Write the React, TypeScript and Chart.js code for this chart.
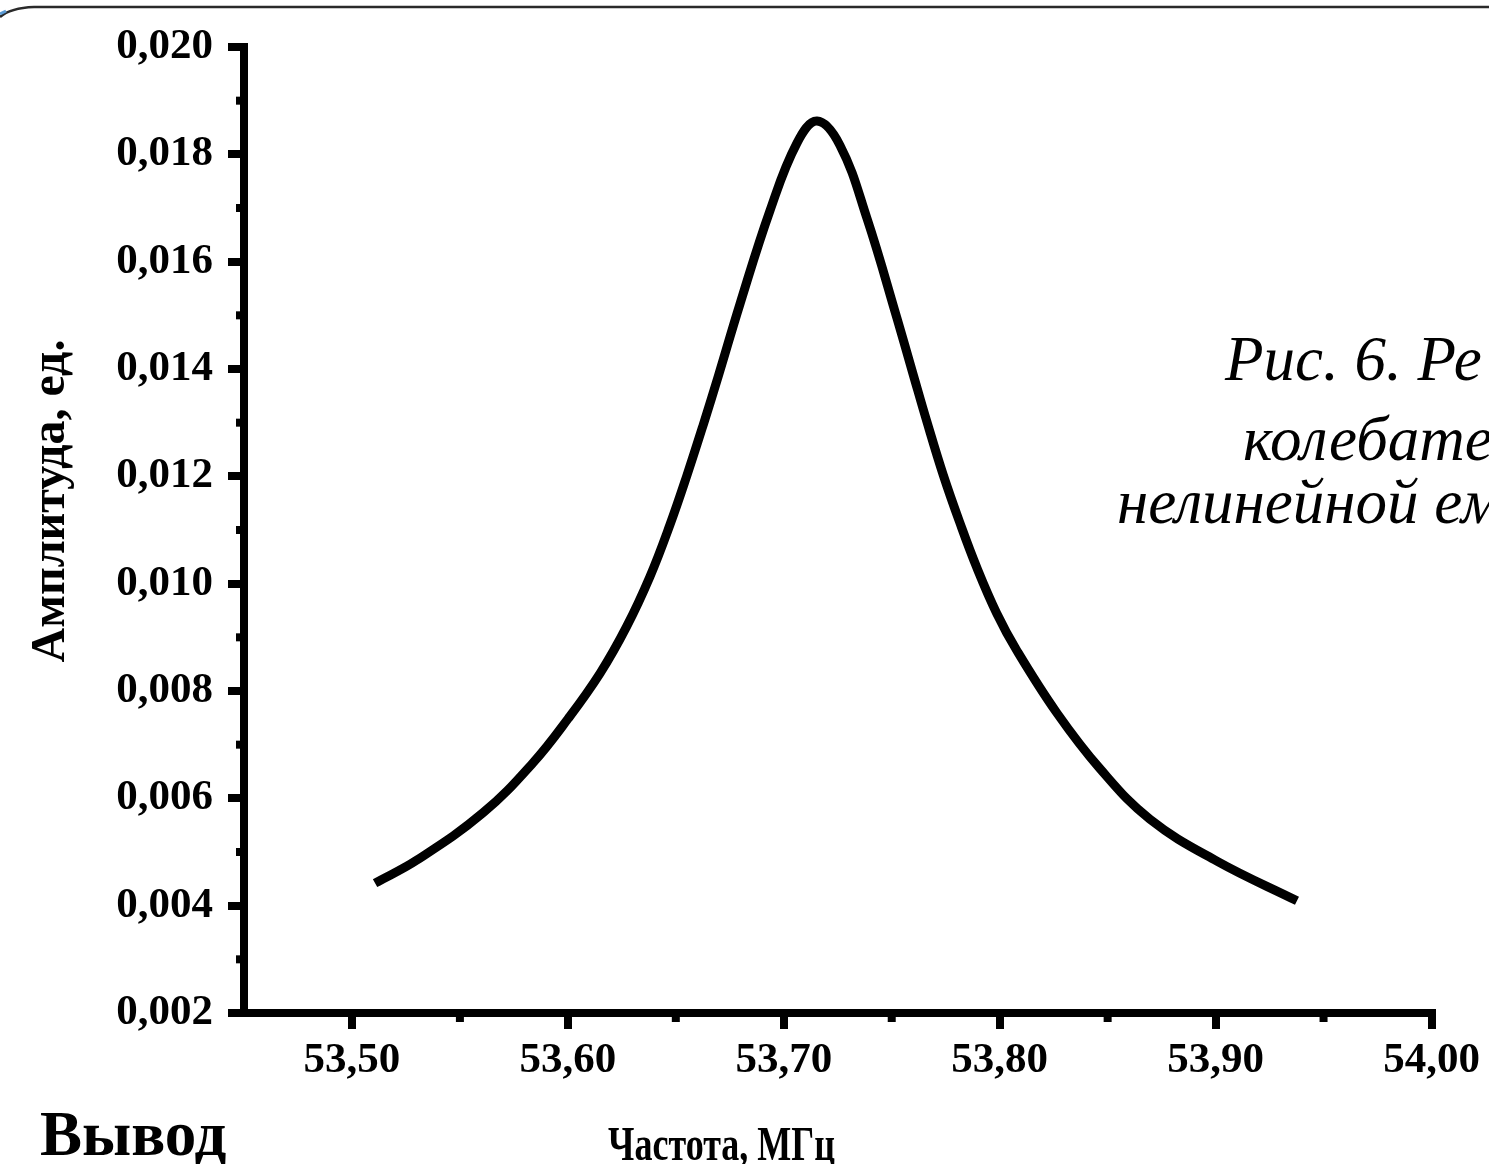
import React, { useEffect, useRef } from 'react';
import { Chart, registerables } from 'chart.js';

Chart.register(...registerables);

// ---- data ----
const frequencyMHz = [
  53.5107, 53.5301, 53.5607, 53.5838, 53.6002, 53.6149, 53.6272, 53.638, 53.6473, 53.655,
  53.6627, 53.6697, 53.6797, 53.6936, 53.7061, 53.7154, 53.726, 53.7385, 53.7524, 53.76,
  53.7662, 53.7739, 53.7816, 53.7893, 53.7986, 53.808, 53.8265, 53.8465, 53.8696, 53.9006,
  53.9377,
];
const amplitude = [
  0.00442, 0.00485, 0.00573, 0.00666, 0.00749, 0.00833, 0.0092, 0.01013, 0.0111, 0.012,
  0.01296, 0.01387, 0.01521, 0.01695, 0.01821, 0.01862, 0.01817, 0.01681, 0.01495, 0.01389,
  0.01303, 0.01202, 0.01113, 0.01031, 0.00945, 0.00875, 0.00759, 0.00655, 0.00561, 0.00483,
  0.00409,
];

const xTicks = [53.5, 53.6, 53.7, 53.8, 53.9, 54.0];
const xTickLabels = ['53,50', '53,60', '53,70', '53,80', '53,90', '54,00'];
const xMinorTicks = [53.55, 53.65, 53.75, 53.85, 53.95];

const yTicks = [0.002, 0.004, 0.006, 0.008, 0.01, 0.012, 0.014, 0.016, 0.018, 0.02];
const yTickLabels = ['0,002', '0,004', '0,006', '0,008', '0,010', '0,012', '0,014', '0,016', '0,018', '0,020'];
const yMinorTicks = [0.003, 0.005, 0.007, 0.009, 0.011, 0.013, 0.015, 0.017, 0.019];

const xTitle = 'Частота, МГц';
const yTitle = 'Амплитуда, ед.';
const captionLines = ['Рис. 6. Ре', 'колебате', 'нелинейной ем'];
const bottomHeading = 'Вывод';

const W = 1489;
const H = 1164;
const SERIF = '"Liberation Serif", "Times New Roman", serif';

const decorPlugin = {
  id: 'decor',
  afterDraw(chart: any) {
    const ctx = chart.ctx as CanvasRenderingContext2D;
    const xs = chart.scales.x;
    const ys = chart.scales.y;
    const area = chart.chartArea;
    ctx.save();
    ctx.fillStyle = '#000';
    // minor ticks
    xMinorTicks.forEach((v) => {
      const px = xs.getPixelForValue(v);
      ctx.fillRect(px - 4, area.bottom, 8, 9);
    });
    yMinorTicks.forEach((v) => {
      const py = ys.getPixelForValue(v);
      ctx.fillRect(area.left - 8, py - 4, 8, 8);
    });

    // y title
    ctx.save();
    ctx.translate(64, 501);
    ctx.rotate(-Math.PI / 2);
    ctx.font = `bold 48px ${SERIF}`;
    ctx.textAlign = 'center';
    ctx.textBaseline = 'alphabetic';
    ctx.fillText(yTitle, 0, 0);
    ctx.restore();

    // x title (horizontally condensed)
    ctx.save();
    ctx.font = `bold 48px ${SERIF}`;
    const w = ctx.measureText(xTitle).width;
    ctx.translate(608, 1160);
    ctx.scale(227 / w, 1);
    ctx.textAlign = 'left';
    ctx.textBaseline = 'alphabetic';
    ctx.fillText(xTitle, 0, 0);
    ctx.restore();

    // heading
    ctx.font = `bold 63px ${SERIF}`;
    ctx.textAlign = 'left';
    ctx.textBaseline = 'alphabetic';
    ctx.fillText(bottomHeading, 40, 1155);

    // caption (italic, clipped by the page edge)
    ctx.font = `italic 63px ${SERIF}`;
    ctx.fillText(captionLines[0], 1225, 380);
    ctx.fillText(captionLines[1], 1243, 460);
    ctx.fillText(captionLines[2], 1117, 523);

    // frame at the top
    ctx.strokeStyle = '#2a2a2a';
    ctx.lineWidth = 2.5;
    ctx.beginPath();
    ctx.moveTo(0, 17);
    ctx.quadraticCurveTo(10, 8, 34, 7);
    ctx.lineTo(W, 7);
    ctx.stroke();
    ctx.strokeStyle = '#5b9bd5';
    ctx.lineWidth = 3;
    ctx.beginPath();
    ctx.moveTo(0, 14);
    ctx.lineTo(6, 11);
    ctx.stroke();
    ctx.restore();
  },
};

export default function App() {
  const ref = useRef<HTMLCanvasElement | null>(null);

  useEffect(() => {
    document.body.style.margin = '0';
    document.body.style.overflow = 'hidden';
    document.body.style.background = '#fff';
    const canvas = ref.current;
    if (!canvas) return;

    const tickFont = { family: SERIF, size: 43, weight: 'bold' as const };

    const chart = new Chart(canvas, {
      type: 'line',
      data: {
        datasets: [
          {
            data: frequencyMHz.map((f, i) => ({ x: f, y: amplitude[i] })),
            borderColor: '#000',
            borderWidth: 9,
            pointRadius: 0,
            fill: false,
            tension: 0.4,
            borderCapStyle: 'butt',
            borderJoinStyle: 'round',
          },
        ],
      },
      options: {
        animation: false,
        responsive: false,
        devicePixelRatio: 1,
        layout: { padding: { top: 47, right: 57.5, left: 0, bottom: 0 } },
        plugins: { legend: { display: false }, tooltip: { enabled: false }, title: { display: false } },
        scales: {
          x: {
            type: 'linear',
            min: 53.45,
            max: 54.0,
            afterBuildTicks: (s: any) => {
              s.ticks = xTicks.map((v) => ({ value: v }));
            },
            afterFit: (s: any) => {
              s.height = H - 1013;
            },
            ticks: {
              callback: (_v: any, i: number) => xTickLabels[i],
              font: tickFont,
              color: '#000',
              padding: 6,
              maxRotation: 0,
              autoSkip: false,
            },
            grid: {
              drawOnChartArea: false,
              drawTicks: true,
              tickLength: 16,
              lineWidth: 8,
              tickWidth: 8,
              color: '#000',
              tickColor: '#000',
            },
            border: { display: true, width: 8, color: '#000' },
          },
          y: {
            type: 'linear',
            min: 0.002,
            max: 0.02,
            afterBuildTicks: (s: any) => {
              s.ticks = yTicks.map((v) => ({ value: v }));
            },
            afterFit: (s: any) => {
              s.width = 244;
            },
            ticks: {
              callback: (_v: any, i: number) => yTickLabels[i],
              font: tickFont,
              color: '#000',
              padding: 15,
              autoSkip: false,
            },
            grid: {
              drawOnChartArea: false,
              drawTicks: true,
              tickLength: 16,
              lineWidth: 8,
              tickWidth: 8,
              color: '#000',
              tickColor: '#000',
            },
            border: { display: true, width: 8, color: '#000' },
          },
        },
      },
      plugins: [decorPlugin],
    } as any);

    return () => chart.destroy();
  }, []);

  return (
    <div style={{ width: W, height: H, overflow: 'hidden', background: '#fff' }}>
      <canvas ref={ref} width={W} height={H} style={{ display: 'block', width: W, height: H }} />
    </div>
  );
}
